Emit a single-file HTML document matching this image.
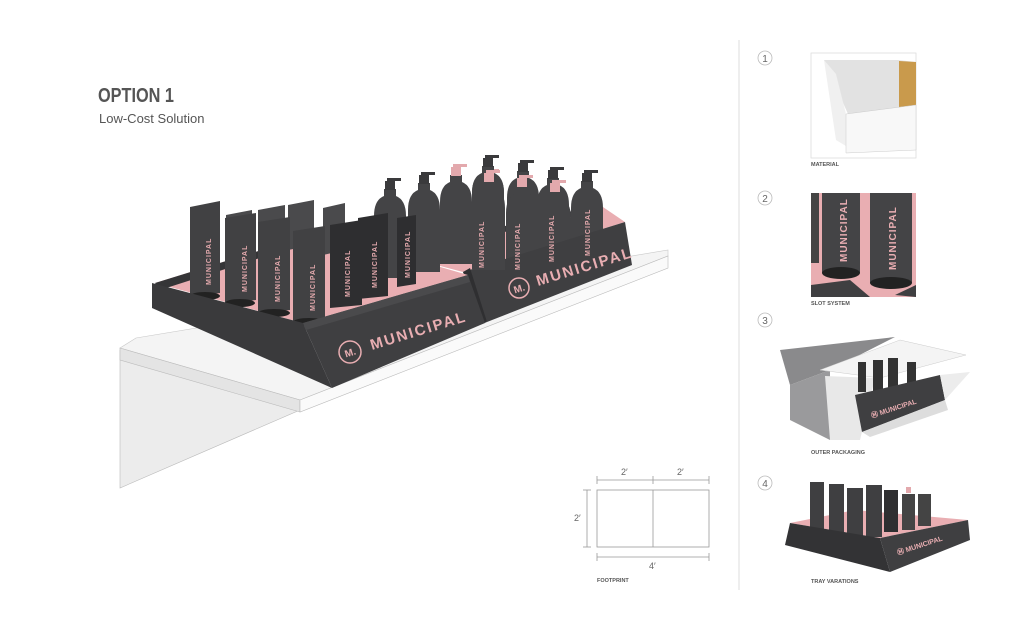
<!DOCTYPE html>
<html><head><meta charset="utf-8"><style>
html,body{margin:0;padding:0;background:#fff;}
svg{display:block}
text{font-family:"Liberation Sans",sans-serif}
</style></head><body>
<svg width="1024" height="633" viewBox="0 0 1024 633" xmlns="http://www.w3.org/2000/svg">
<defs>
<g id="bot">
 <path d="M-16,30 Q-16,14 -6,10 L-6,3 L6,3 L6,10 Q16,14 16,30 L16,92 L-16,92 Z" fill="#444446"/>
 <rect x="-5" y="-5" width="10" height="9" fill="#3a3a3c"/>
 <rect x="-3" y="-8" width="14" height="3" fill="#3a3a3c"/>
</g>
<g id="botp">
 <path d="M-16,30 Q-16,14 -6,10 L-6,3 L6,3 L6,10 Q16,14 16,30 L16,92 L-16,92 Z" fill="#444446"/>
 <rect x="-5" y="-5" width="10" height="9" fill="#e3a9ad"/>
 <rect x="-3" y="-8" width="14" height="3" fill="#e3a9ad"/>
</g>
</defs>

<text x="98" y="102" font-size="20" font-weight="bold" fill="#555" textLength="76" lengthAdjust="spacingAndGlyphs">OPTION 1</text>
<text x="99" y="123" font-size="13" fill="#555">Low-Cost Solution</text>

<polygon points="120,350 120,488 300,410" fill="#ececec" stroke="#bbb" stroke-width="0.6"/>
<polygon points="120,348 136,338 668,250 668,256 300,400" fill="#f4f4f4" stroke="#c8c8c8" stroke-width="0.6"/>
<polygon points="120,348 300,400 300,412 120,360" fill="#e4e4e4" stroke="#bbb" stroke-width="0.6"/>
<polygon points="300,400 668,256 668,268 300,412" fill="#fafafa" stroke="#bbb" stroke-width="0.6"/>

<polygon points="387,252 600,205 625,222 463,272" fill="#e9aeb2"/>
<polygon points="387,252 600,205 602,210 390,258" fill="#3c3c3e"/>
<use href="#bot" x="488" y="163"/>
<use href="#botp" x="488" y="177"/>
<use href="#bot" x="523" y="168"/>
<use href="#botp" x="522" y="183"/>
<use href="#bot" x="553" y="175"/>
<use href="#botp" x="555" y="188"/>
<use href="#bot" x="587" y="178"/>
<polygon points="463,272 625,222 632,265 487,322" fill="#3f3f41"/>
<polygon points="463,272 470,268 487,322 482,324" fill="#2f2f31"/>
<circle cx="519" cy="288" r="10" fill="none" stroke="#e9aeb2" stroke-width="1.5"/>
<text x="519" y="292" font-size="10" font-weight="bold" fill="#e9aeb2" text-anchor="middle" transform="rotate(-17 519 288)">M.</text>
<text x="538" y="286" font-size="15" font-weight="bold" fill="#e9aeb2" letter-spacing="2" transform="rotate(-17 538 286)">MUNICIPAL</text>

<polygon points="155,283 320,232 468,275 303,323" fill="#e9aeb2"/>
<polygon points="155,283 320,232 322,238 160,290" fill="#353537"/>
<use href="#bot" x="390" y="186"/>
<use href="#bot" x="424" y="180"/>
<use href="#botp" x="456" y="172"/>
<use href="#bot" x="488" y="163"/>
<use href="#botp" x="489" y="178"/>

<g fill="#4a4a4c">
 <polygon points="226,215 252,210 252,250 226,255"/>
 <polygon points="258,210 285,205 285,250 258,255"/>
 <polygon points="288,205 314,200 314,245 288,250"/>
 <polygon points="323,208 345,203 345,250 323,255"/>
</g>
<g fill="#414143">
 <polygon points="190,207 220,201 220,293 190,296"/>
 <polygon points="225,218 256,213 256,300 225,303"/>
 <polygon points="258,222 290,217 290,310 258,313"/>
 <polygon points="293,231 325,226 325,319 293,322"/>
</g>
<g fill="#2e2e30">
 <polygon points="330,225 362,220 362,305 330,308"/>
 <polygon points="358,218 388,213 388,296 358,299"/>
 <polygon points="397,218 416,215 416,284 397,287"/>
</g>
<g fill="#e3a9ad" font-size="7" font-weight="bold" letter-spacing="1">
 <text transform="translate(211,285) rotate(-90)">MUNICIPAL</text>
 <text transform="translate(247,292) rotate(-90)">MUNICIPAL</text>
 <text transform="translate(280,302) rotate(-90)">MUNICIPAL</text>
 <text transform="translate(315,311) rotate(-90)">MUNICIPAL</text>
 <text transform="translate(350,297) rotate(-90)">MUNICIPAL</text>
 <text transform="translate(377,288) rotate(-90)">MUNICIPAL</text>
 <text transform="translate(410,278) rotate(-90)">MUNICIPAL</text>
 <text transform="translate(484,268) rotate(-90)">MUNICIPAL</text>
 <text transform="translate(520,270) rotate(-90)">MUNICIPAL</text>
 <text transform="translate(554,262) rotate(-90)">MUNICIPAL</text>
 <text transform="translate(590,256) rotate(-90)">MUNICIPAL</text>
</g>
<g fill="#222">
 <ellipse cx="205" cy="296" rx="15" ry="4"/><ellipse cx="240" cy="303" rx="15" ry="4"/>
 <ellipse cx="274" cy="313" rx="16" ry="4"/><ellipse cx="309" cy="322" rx="16" ry="4"/>
</g>

<polygon points="152,283 303,323 332,388 152,308" fill="#3a3a3c"/>
<polygon points="303,323 468,275 485,323 332,388" fill="#3f3f41"/>
<polygon points="303,323 468,275 470,282 306,330" fill="#4a4a4c"/>
<circle cx="350" cy="352" r="11" fill="none" stroke="#e9aeb2" stroke-width="1.5"/>
<text x="350" y="356" font-size="10" font-weight="bold" fill="#e9aeb2" text-anchor="middle" transform="rotate(-17 350 352)">M.</text>
<text x="372" y="350" font-size="15" font-weight="bold" fill="#e9aeb2" letter-spacing="2" transform="rotate(-17 372 350)">MUNICIPAL</text>

<g stroke="#999" stroke-width="0.8" fill="none">
 <rect x="597" y="490" width="112" height="57"/>
 <line x1="653" y1="490" x2="653" y2="547"/>
 <line x1="597" y1="480" x2="709" y2="480"/>
 <line x1="597" y1="476" x2="597" y2="484"/><line x1="653" y1="476" x2="653" y2="484"/><line x1="709" y1="476" x2="709" y2="484"/>
 <line x1="587" y1="490" x2="587" y2="547"/>
 <line x1="583" y1="490" x2="591" y2="490"/><line x1="583" y1="547" x2="591" y2="547"/>
 <line x1="597" y1="557" x2="709" y2="557"/>
 <line x1="597" y1="553" x2="597" y2="561"/><line x1="709" y1="553" x2="709" y2="561"/>
</g>
<g font-size="9" fill="#666">
 <text x="621" y="475">2′</text><text x="677" y="475">2′</text>
 <text x="574" y="521">2′</text><text x="649" y="569">4′</text>
</g>
<text x="597" y="582" font-size="5.5" font-weight="bold" fill="#555">FOOTPRINT</text>

<line x1="739" y1="40" x2="739" y2="590" stroke="#ddd" stroke-width="1"/>

<g fill="none" stroke="#bbb" stroke-width="0.8">
 <circle cx="765" cy="58" r="7"/><circle cx="765" cy="198" r="7"/><circle cx="765" cy="320" r="7"/><circle cx="765" cy="483" r="7"/>
</g>
<g font-size="10" fill="#666" text-anchor="middle">
 <text x="765" y="62">1</text><text x="765" y="202">2</text><text x="765" y="324">3</text><text x="765" y="487">4</text>
</g>

<rect x="811" y="53" width="105" height="105" fill="#fff" stroke="#ddd" stroke-width="0.8"/>
<polygon points="824,60 898,60 916,62 916,108 848,114" fill="#e2e2e2"/>
<polygon points="899,61 916,62 916,108 899,112" fill="#c99a4c"/>
<polygon points="824,60 836,74 846,114 846,146 836,140" fill="#f0f0f0"/>
<polygon points="846,114 916,105 916,150 846,153" fill="#f8f8f8" stroke="#ccc" stroke-width="0.5"/>
<text x="811" y="166" font-size="5.5" font-weight="bold" fill="#555">MATERIAL</text>

<rect x="811" y="193" width="105" height="104" fill="#e9aeb2"/>
<rect x="811" y="193" width="8" height="70" fill="#444"/>
<rect x="822" y="193" width="38" height="80" fill="#444446"/>
<rect x="870" y="193" width="42" height="90" fill="#444446"/>
<ellipse cx="841" cy="273" rx="19" ry="6" fill="#222"/>
<ellipse cx="891" cy="283" rx="21" ry="6" fill="#222"/>
<polygon points="811,285 850,280 870,297 811,297" fill="#3f3f41"/>
<polygon points="895,295 916,285 916,297" fill="#3f3f41"/>
<text transform="translate(847,262) rotate(-90)" font-size="10" font-weight="bold" fill="#e9aeb2" letter-spacing="1">MUNICIPAL</text>
<text transform="translate(896,270) rotate(-90)" font-size="10" font-weight="bold" fill="#e9aeb2" letter-spacing="1">MUNICIPAL</text>
<text x="811" y="305" font-size="5.5" font-weight="bold" fill="#555">SLOT SYSTEM</text>

<polygon points="780,350 895,337 830,370 790,385" fill="#8a8a8c"/>
<polygon points="790,385 830,370 830,440 790,420" fill="#9a9a9c"/>
<polygon points="820,370 900,340 966,355 880,378" fill="#f4f4f4" stroke="#ccc" stroke-width="0.5"/>
<polygon points="825,376 875,378 860,440 830,440" fill="#e8e8e8"/>
<rect x="858" y="362" width="8" height="30" fill="#333"/><rect x="873" y="360" width="10" height="32" fill="#333"/>
<rect x="888" y="358" width="10" height="32" fill="#333"/><rect x="907" y="362" width="9" height="25" fill="#333"/>
<polygon points="855,395 940,375 945,400 862,432" fill="#3f3f41"/>
<polygon points="940,375 970,372 945,400" fill="#ececec"/>
<polygon points="862,432 945,400 948,410 870,437" fill="#ddd"/>
<text x="872" y="418" font-size="7" font-weight="bold" fill="#e9aeb2" transform="rotate(-18 872 418)">Ⓜ MUNICIPAL</text>
<text x="811" y="454" font-size="5.5" font-weight="bold" fill="#555">OUTER PACKAGING</text>

<polygon points="790,523 855,510 968,520 880,538" fill="#e9aeb2"/>
<rect x="810" y="482" width="14" height="48" fill="#3f3f41"/>
<rect x="829" y="484" width="15" height="50" fill="#3f3f41"/>
<rect x="847" y="488" width="16" height="50" fill="#3f3f41"/>
<rect x="866" y="485" width="16" height="52" fill="#3f3f41"/>
<rect x="884" y="490" width="14" height="42" fill="#2f2f31"/>
<rect x="902" y="494" width="13" height="36" fill="#444"/>
<rect x="918" y="494" width="13" height="32" fill="#444"/>
<rect x="906" y="487" width="5" height="6" fill="#e3a9ad"/>
<polygon points="790,523 880,538 890,572 785,545" fill="#333335"/>
<polygon points="880,538 968,520 970,540 890,572" fill="#3f3f41"/>
<text x="898" y="555" font-size="7" font-weight="bold" fill="#e9aeb2" transform="rotate(-18 898 555)">Ⓜ MUNICIPAL</text>
<text x="811" y="583" font-size="5.5" font-weight="bold" fill="#555">TRAY VARATIONS</text>
</svg>
</body></html>
